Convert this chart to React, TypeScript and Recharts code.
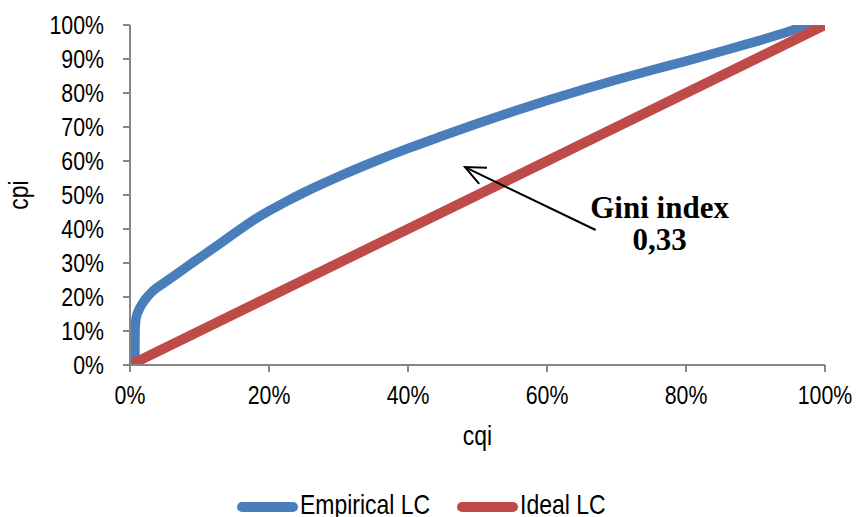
import React from "react";
import { LineChart, Line, XAxis, YAxis, ReferenceLine, ReferenceDot } from "recharts";

const empiricalX = [0.007, 0.0072, 0.009, 0.014, 0.022, 0.033, 0.05, 0.07, 0.1, 0.13, 0.15, 0.177, 0.2, 0.226, 0.25, 0.3, 0.35, 0.4, 0.45, 0.5, 0.55, 0.6, 0.65, 0.7, 0.75, 0.8, 0.85, 0.9, 0.95, 0.975, 1.0];
const empiricalY = [0.0, 0.1, 0.14, 0.167, 0.193, 0.218, 0.243, 0.272, 0.315, 0.358, 0.387, 0.425, 0.453, 0.482, 0.507, 0.554, 0.597, 0.637, 0.674, 0.71, 0.745, 0.778, 0.809, 0.839, 0.867, 0.894, 0.922, 0.951, 0.982, 1.0, 1.0];
const idealX = [0, 1];
const idealY = [0, 1];
const xTicks = [0, 0.2, 0.4, 0.6, 0.8, 1];
const yTicks = [0, 0.1, 0.2, 0.3, 0.4, 0.5, 0.6, 0.7, 0.8, 0.9, 1];
const arrowFrom = { x: 0.67, y: 0.397 };
const arrowTo = { x: 0.482, y: 0.582 };
const giniAt = { x: 0.762, y: 0.432 };
const giniLines = ["Gini index", "0,33"];
const seriesNames = ["Empirical LC", "Ideal LC"];
const seriesColors = ["#4A7EBB", "#BE4B48"];

const AXIS = "#868686";
const SANS = "'Liberation Sans', Arial, sans-serif";
const SERIF = "'Liberation Serif', 'Times New Roman', serif";
const NARROW_SCALE = 0.82;

const empiricalData = empiricalX.map((x, i) => ({ x, y: empiricalY[i] }));
const idealData = idealX.map((x, i) => ({ x, y: idealY[i] }));

const pct = (v: number) => `${Math.round(v * 100)}%`;

const NarrowText = ({ x, y, anchor, dy, size, children, rotate }: any) => (
  <g transform={`translate(${x},${y})${rotate ? ` rotate(${rotate})` : ""} scale(${NARROW_SCALE},1)`}>
    <text x={0} y={0} dy={dy} textAnchor={anchor} fontFamily={SANS} fontSize={size} fill="#000">
      {children}
    </text>
  </g>
);

const XTick = (props: any) => {
  const { x, y, payload } = props;
  return (
    <NarrowText x={x} y={y} anchor="middle" dy="0.71em" size={26}>
      {pct(payload.value)}
    </NarrowText>
  );
};

const YTick = (props: any) => {
  const { x, y, payload } = props;
  return (
    <NarrowText x={x} y={y} anchor="end" dy="0.355em" size={26}>
      {pct(payload.value)}
    </NarrowText>
  );
};

const ArrowShape = (props: any) => {
  const { x1, y1, x2, y2 } = props;
  const ang = Math.atan2(y2 - y1, x2 - x1);
  const len = 22;
  const spread = 0.42;
  const ax = x2 - len * Math.cos(ang - spread);
  const ay = y2 - len * Math.sin(ang - spread);
  const bx = x2 - len * Math.cos(ang + spread);
  const by = y2 - len * Math.sin(ang + spread);
  return (
    <g>
      <line x1={x1} y1={y1} x2={x2} y2={y2} stroke="#000" strokeWidth={2} />
      <polyline points={`${ax},${ay} ${x2},${y2} ${bx},${by}`} fill="none" stroke="#000" strokeWidth={2} />
    </g>
  );
};

const GiniShape = (props: any) => {
  const { cx, cy } = props;
  return (
    <g>
      {giniLines.map((t, i) => (
        <text key={i} x={cx} y={cy + i * 32} textAnchor="middle" fontFamily={SERIF} fontWeight="bold" fontSize={31} fill="#000">
          {t}
        </text>
      ))}
    </g>
  );
};

const YTitle = (props: any) => {
  const vb = props.viewBox;
  return (
    <NarrowText x={vb.x + 18} y={vb.y + vb.height / 2} anchor="middle" dy="0.35em" size={28} rotate={-90}>
      cpi
    </NarrowText>
  );
};

const XTitle = (props: any) => {
  const vb = props.viewBox;
  return (
    <NarrowText x={vb.x + vb.width / 2} y={vb.y + 80} anchor="middle" dy={0} size={28}>
      cqi
    </NarrowText>
  );
};

export default function App() {
  return (
    <div style={{ position: "absolute", left: 0, top: 0, width: 856, height: 517, background: "#fff" }}>
      <LineChart width={856} height={517} margin={{ top: 25, right: 31, bottom: 0, left: 0 }}>
        <XAxis
          type="number"
          dataKey="x"
          domain={[0, 1]}
          ticks={xTicks}
          interval={0}
          allowDataOverflow
          height={152}
          stroke={AXIS}
          strokeWidth={2}
          tickSize={7}
          tickMargin={14}
          tick={<XTick />}
          label={<XTitle />}
        />
        <YAxis
          type="number"
          dataKey="y"
          domain={[0, 1]}
          ticks={yTicks}
          interval={0}
          allowDataOverflow
          width={130}
          stroke={AXIS}
          strokeWidth={2}
          tickSize={7}
          tickMargin={19}
          tick={<YTick />}
          label={<YTitle />}
        />
        <Line data={empiricalData} dataKey="y" name={seriesNames[0]} type="monotone" stroke={seriesColors[0]} strokeWidth={9.5} dot={false} activeDot={false} isAnimationActive={false} strokeLinejoin="round" />
        <Line data={idealData} dataKey="y" name={seriesNames[1]} type="linear" stroke={seriesColors[1]} strokeWidth={10} dot={false} activeDot={false} isAnimationActive={false} />
        <ReferenceLine segment={[arrowFrom, arrowTo]} shape={<ArrowShape />} ifOverflow="visible" />
        <ReferenceDot x={giniAt.x} y={giniAt.y} r={0} shape={<GiniShape />} ifOverflow="visible" />
      </LineChart>
      <svg width={856} height={517} style={{ position: "absolute", left: 0, top: 0, pointerEvents: "none" }}>
        {seriesNames.map((n, i) => {
          const x0 = i === 0 ? 237 : 457;
          return (
            <g key={n}>
              <line x1={x0 + 5} y1={507} x2={x0 + 56} y2={507} stroke={seriesColors[i]} strokeWidth={10} strokeLinecap="round" />
              <NarrowText x={x0 + 63} y={514} anchor="start" dy={0} size={28}>
                {n}
              </NarrowText>
            </g>
          );
        })}
      </svg>
    </div>
  );
}
